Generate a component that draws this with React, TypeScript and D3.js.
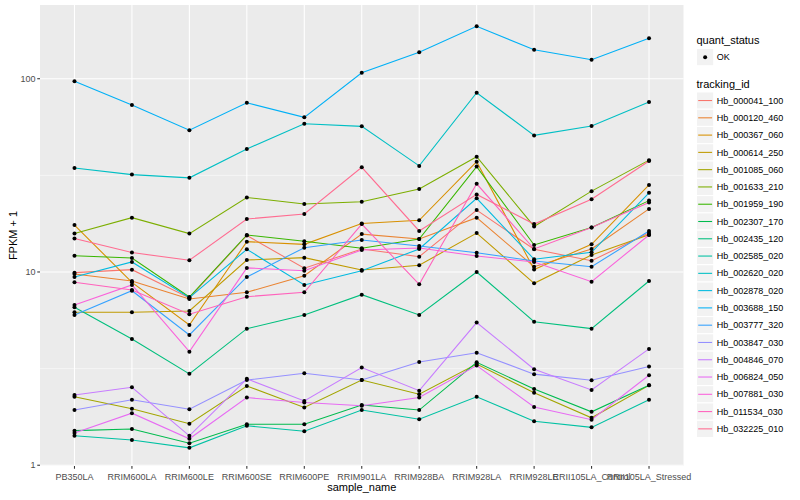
import * as d3 from 'd3';

const samples = [
  'PB350LA', 'RRIM600LA', 'RRIM600LE', 'RRIM600SE', 'RRIM600PE', 'RRIM901LA',
  'RRIM928BA', 'RRIM928LA', 'RRIM928LE', 'RRII105LA_Control', 'RRII105LA_Stressed'
];

const trackingIds = [
  'Hb_000041_100', 'Hb_000120_460', 'Hb_000367_060', 'Hb_000614_250', 'Hb_001085_060',
  'Hb_001633_210', 'Hb_001959_190', 'Hb_002307_170', 'Hb_002435_120', 'Hb_002585_020',
  'Hb_002620_020', 'Hb_002878_020', 'Hb_003688_150', 'Hb_003777_320', 'Hb_003847_030',
  'Hb_004846_070', 'Hb_006824_050', 'Hb_007881_030', 'Hb_011534_030', 'Hb_032225_010'
];

// ggplot default hue palette for 20 groups
const colors = [
  '#F8766D', '#EA8331', '#D89000', '#C09B00', '#A3A500', '#7CAE00', '#39B600', '#00BB4E',
  '#00BF7D', '#00C1A3', '#00BFC4', '#00BAE0', '#00B0F6', '#35A2FF', '#9590FF', '#C77CFF',
  '#E76BF3', '#FA62DB', '#FF62BC', '#FF6C91'
];

// FPKM + 1 per sample
const hb_000041_100 = [9.92, 10.28, 7.34, 15.45, 10.45, 13.15, 12.0, 20.9, 13.1, 11.44, 15.9];
const hb_000120_460 = [9.76, 8.98, 7.25, 7.85, 9.57, 15.7, 14.8, 19.1, 10.65, 13.15, 21.2];
const hb_000367_060 = [17.5, 8.84, 5.32, 14.35, 13.9, 17.8, 18.5, 37.2, 10.3, 13.9, 28.2];
const hb_000614_250 = [6.19, 6.19, 6.28, 11.53, 11.86, 10.24, 10.83, 15.9, 8.74, 12.24, 15.6];
const hb_001085_060 = [2.26, 1.96, 1.64, 2.57, 1.99, 2.76, 2.33, 3.34, 2.37, 1.76, 2.59];
const hb_001633_210 = [15.8, 19.1, 15.8, 24.3, 22.5, 23.1, 26.9, 39.5, 17.2, 26.2, 37.9];
const hb_001959_190 = [12.14, 11.81, 7.42, 15.54, 14.41, 13.26, 14.8, 35.1, 13.8, 17.0, 23.4];
const hb_002307_170 = [1.51, 1.54, 1.3, 1.63, 1.63, 2.05, 1.93, 3.41, 2.48, 1.89, 2.59];
const hb_002435_120 = [6.57, 4.5, 2.97, 5.09, 5.99, 7.63, 5.99, 10.0, 5.53, 5.09, 8.98];
const hb_002585_020 = [1.42, 1.35, 1.23, 1.6, 1.5, 1.93, 1.73, 2.26, 1.69, 1.57, 2.18];
const hb_002620_020 = [34.5, 31.9, 30.7, 43.3, 58.5, 56.7, 35.4, 84.6, 50.9, 56.9, 75.7];
const hb_002878_020 = [9.42, 11.27, 7.36, 13.1, 8.57, 10.15, 13.15, 24.06, 11.63, 12.64, 25.7];
const hb_003688_150 = [96.9, 73.1, 54.1, 75.1, 63.1, 107.4, 137, 186.6, 141.3, 125.4, 161.8];
const hb_003777_320 = [5.99, 8.0, 4.72, 9.42, 13.36, 14.64, 13.63, 12.58, 11.4, 10.65, 16.3];
const hb_003847_030 = [1.93, 2.18, 1.95, 2.76, 2.99, 2.76, 3.42, 3.82, 2.96, 2.75, 3.24];
const hb_004846_070 = [2.31, 2.53, 1.42, 2.8, 2.15, 3.2, 2.43, 5.47, 3.14, 2.45, 4.0];
const hb_006824_050 = [1.47, 1.86, 1.37, 2.24, 2.11, 2.03, 2.24, 3.28, 2.0, 1.72, 2.92];
const hb_007881_030 = [6.75, 8.57, 3.87, 10.5, 10.15, 13.0, 13.3, 12.1, 11.27, 8.91, 15.54];
const hb_011534_030 = [8.84, 8.07, 6.04, 7.45, 7.85, 17.7, 8.64, 28.6, 13.15, 17.0, 22.9];
const hb_032225_010 = [14.9, 12.6, 11.5, 18.8, 19.95, 34.8, 16.3, 25.2, 17.7, 23.8, 37.5];

const fpkmRows = [
  hb_000041_100, hb_000120_460, hb_000367_060, hb_000614_250, hb_001085_060,
  hb_001633_210, hb_001959_190, hb_002307_170, hb_002435_120, hb_002585_020,
  hb_002620_020, hb_002878_020, hb_003688_150, hb_003777_320, hb_003847_030,
  hb_004846_070, hb_006824_050, hb_007881_030, hb_011534_030, hb_032225_010
];

const yTicks = [1, 10, 100];
const yMinor = [Math.sqrt(10), Math.sqrt(1000)];
const quantStatus = ['OK'];

const font = '"Liberation Sans", Arial, Helvetica, sans-serif';

export default function App() {
  const width = 800;
  const height = 500;
  const panel = { left: 40, right: 683.5, top: 5, bottom: 466 };

  const x = d3.scalePoint<string>().domain(samples).range([panel.left, panel.right]).padding(0.6);
  const y = d3
    .scaleLog()
    .domain([Math.pow(10, -0.004), Math.pow(10, 2.3815)])
    .range([panel.bottom, panel.top]);

  const line = d3
    .line<number>()
    .x((_, i) => x(samples[i]) as number)
    .y((d) => y(d));

  const keySize = 17.28;
  const keyX = 696.5;
  const okKeyY = 48.5;
  const trackKeyY = 91.9;

  return (
    <svg
      width={width}
      height={height}
      style={{ position: 'absolute', left: 0, top: 0, fontFamily: font }}
    >
      <rect x={0} y={0} width={width} height={height} fill='white' />
      {/* panel */}
      <rect
        x={panel.left}
        y={panel.top}
        width={panel.right - panel.left}
        height={panel.bottom - panel.top}
        fill='#EBEBEB'
      />
      {yMinor.map((t) => (
        <line key={'mn' + t} x1={panel.left} x2={panel.right} y1={y(t)} y2={y(t)} stroke='white' strokeWidth={0.53} />
      ))}
      {yTicks.map((t) => (
        <line key={'mj' + t} x1={panel.left} x2={panel.right} y1={y(t)} y2={y(t)} stroke='white' strokeWidth={1.07} />
      ))}
      {samples.map((s) => (
        <line key={'gx' + s} x1={x(s)} x2={x(s)} y1={panel.top} y2={panel.bottom} stroke='white' strokeWidth={1.07} />
      ))}

      {/* lines */}
      {fpkmRows.map((row, i) => (
        <path key={trackingIds[i]} d={line(row) || ''} fill='none' stroke={colors[i]} strokeWidth={1.07} />
      ))}
      {/* points */}
      {fpkmRows.map((row, i) =>
        row.map((v, j) => <circle key={trackingIds[i] + j} cx={x(samples[j])} cy={y(v)} r={2} fill='black' />)
      )}

      {/* y axis */}
      {yTicks.map((t) => (
        <g key={'yt' + t}>
          <line x1={panel.left - 2.75} x2={panel.left} y1={y(t)} y2={y(t)} stroke='#333333' strokeWidth={1.07} />
          <text x={panel.left - 4.5} y={y(t)} dy='0.35em' textAnchor='end' fontSize={9} fill='#4D4D4D'>
            {t}
          </text>
        </g>
      ))}
      <text transform={`translate(16.5,${(panel.top + panel.bottom) / 2}) rotate(-90)`} textAnchor='middle' fontSize={11} fill='black'>
        FPKM + 1
      </text>

      {/* x axis */}
      {samples.map((s) => (
        <g key={'xt' + s}>
          <line x1={x(s)} x2={x(s)} y1={panel.bottom} y2={panel.bottom + 2.75} stroke='#333333' strokeWidth={1.07} />
          <text x={x(s)} y={480} textAnchor='middle' fontSize={9} fill='#4D4D4D'>
            {s}
          </text>
        </g>
      ))}
      <text x={(panel.left + panel.right) / 2} y={490.5} textAnchor='middle' fontSize={11} fill='black'>
        sample_name
      </text>

      {/* legend: quant_status */}
      <text x={keyX} y={44} fontSize={11} fill='black'>
        quant_status
      </text>
      {quantStatus.map((q, i) => (
        <g key={q}>
          <rect x={keyX} y={okKeyY + i * keySize} width={keySize} height={keySize} fill='#F2F2F2' stroke='white' strokeWidth={1.07} />
          <circle cx={keyX + keySize / 2} cy={okKeyY + i * keySize + keySize / 2} r={2} fill='black' />
          <text x={keyX + keySize + 3} y={okKeyY + i * keySize + keySize / 2} dy='0.35em' fontSize={9} fill='black'>
            {q}
          </text>
        </g>
      ))}

      {/* legend: tracking_id */}
      <text x={keyX} y={87.7} fontSize={11} fill='black'>
        tracking_id
      </text>
      {trackingIds.map((id, i) => {
        const ky = trackKeyY + i * keySize;
        return (
          <g key={'lg' + id}>
            <rect x={keyX} y={ky} width={keySize} height={keySize} fill='#F2F2F2' stroke='white' strokeWidth={1.07} />
            <line x1={keyX + 1.7} x2={keyX + keySize - 1.7} y1={ky + keySize / 2} y2={ky + keySize / 2} stroke={colors[i]} strokeWidth={1.07} />
            <text x={keyX + keySize + 3} y={ky + keySize / 2} dy='0.35em' fontSize={9} fill='black'>
              {id}
            </text>
          </g>
        );
      })}
    </svg>
  );
}
